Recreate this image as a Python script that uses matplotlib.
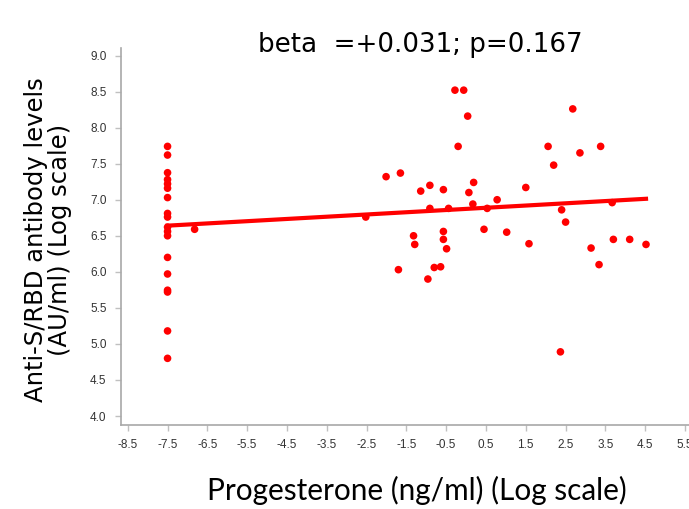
import numpy as np
import matplotlib
matplotlib.use("Agg")
import matplotlib.pyplot as plt

# undetectable progesterone group, plotted at -7.5
x_low = [-7.5] * 18
y_low = [7.74, 7.62, 7.375, 7.28, 7.22, 7.16, 7.03, 6.81, 6.76, 6.56, 6.50,
         6.20, 5.97, 5.745, 5.72, 5.18, 4.80, 6.62]

x_det = [-6.82, -0.28, -0.06, 0.04, -0.20, -2.01, -1.65, -1.14, -0.91, -0.57,
         -0.91, -0.44, -2.52, -1.32, -1.29, -0.57, -0.57, -0.49, -1.70, -0.80,
         -0.64, -0.96, 0.19, 0.07, 0.17, 0.53, 0.78, 1.50, 0.45, 1.02,
         1.58, 2.68, 2.06, 2.86, 3.38, 2.20, 2.40, 2.50, 3.67, 3.14,
         3.70, 4.11, 4.52, 3.34, 2.37]
y_det = [6.59, 8.52, 8.52, 8.16, 7.74, 7.32, 7.37, 7.12, 7.20, 7.14,
         6.88, 6.88, 6.76, 6.50, 6.38, 6.56, 6.45, 6.32, 6.03, 6.06,
         6.07, 5.90, 7.24, 7.10, 6.94, 6.88, 7.00, 7.17, 6.59, 6.55,
         6.39, 8.26, 7.74, 7.65, 7.74, 7.48, 6.86, 6.69, 6.96, 6.33,
         6.45, 6.45, 6.38, 6.10, 4.89]

beta = 0.031
intercept = 6.873
p_value = 0.167

x_all = np.array(x_low + x_det)
y_all = np.array(y_low + y_det)

fig = plt.figure(figsize=(6.89, 5.09), dpi=100)
ax = fig.add_axes([0.175, 0.165, 0.825, 0.741])

ax.scatter(x_all, y_all, s=30, color="#ff0000", edgecolors="none", zorder=3)
xl = np.array([x_all.min(), x_all.max()])
ax.plot(xl, intercept + beta * xl, color="#ff0000", lw=3, zorder=2)

ax.set_xlim(-8.68, 5.6)
ax.set_ylim(3.875, 9.107)
ax.set_xticks(np.arange(-8.5, 6.0, 1.0))
ax.set_yticks(np.arange(4.0, 9.01, 0.5))
ax.xaxis.set_major_formatter(matplotlib.ticker.FormatStrFormatter("%.1f"))
ax.yaxis.set_major_formatter(matplotlib.ticker.FormatStrFormatter("%.1f"))
for s in ("top", "right"):
    ax.spines[s].set_visible(False)
for s in ("left", "bottom"):
    ax.spines[s].set_color("#a8a8a8")
    ax.spines[s].set_linewidth(1.2)
ax.tick_params(colors="#c0c0c0", length=4, width=1, labelcolor="#333333",
               labelsize=8.5, pad=6)
for lab in ax.get_xticklabels() + ax.get_yticklabels():
    lab.set_family("Liberation Sans")
ax.patch.set_alpha(0)

fig.text(420 / 689, 1 - 45 / 509, f"beta  =+{beta:.3f}; p={p_value:.3f}",
         ha="center", va="center", fontsize=18.8, family="DejaVu Sans")
fig.text(48 / 689, 1 - 240 / 509, "Anti-S/RBD antibody levels\n(AU/ml) (Log scale)",
         ha="center", va="center", rotation=90, fontsize=17.5,
         family="DejaVu Sans", linespacing=1.0)
fig.text(417 / 689, 1 - 490 / 509, "Progesterone (ng/ml) (Log scale)",
         ha="center", va="center", fontsize=21.4, family="Lato")

fig.savefig("out.png", dpi=100)
